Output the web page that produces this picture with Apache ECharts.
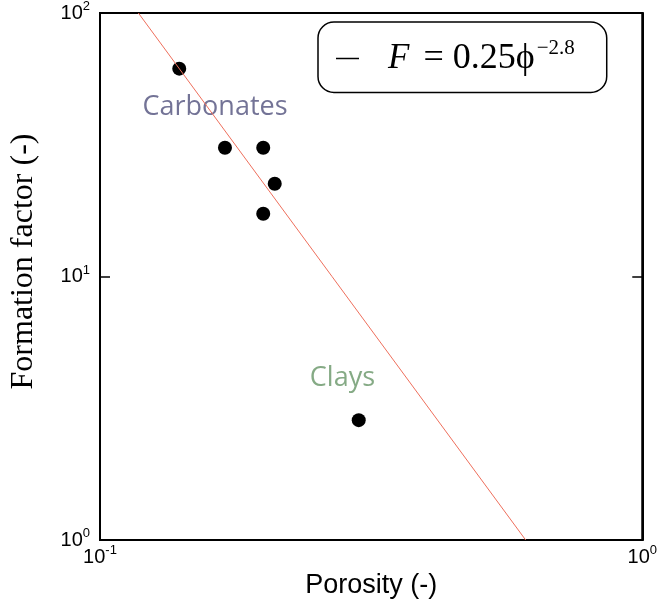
<!DOCTYPE html>
<html>
<head>
<meta charset="utf-8">
<script src="https://cdn.jsdelivr.net/npm/echarts@6/dist/echarts.min.js"></script>
<style>
    html, body { margin: 0; padding: 0; background: #fff; }
    #chart { width: 660px; height: 604px; }
</style>
</head>
<body>
<div id="chart"></div>
<script>
// measured samples (porosity, formation factor)
const porosity = [0.140, 0.170, 0.200, 0.210, 0.200, 0.300];
const formationFactor = [61.5, 30.8, 30.8, 22.5, 17.3, 2.85];

// fitted trend F = 0.25 phi^-2.8, end points where it leaves the plot box
const fitPhi = [0.1177, 0.6095];
const fitF = [100, 1];
const fitName = "F = 0.25ϕ^-2.8";

// group labels placed in data space
const groupNames = ["Carbonates", "Clays"];
const groupX = [0.163, 0.280];
const groupY = [44, 4.1];
const groupColors = ["#50507c", "#679566"];

function powLabel(v) {
    const e = Math.round(Math.log10(v));
    return "{base|10}{pow|" + (e < 0 ? "-" + (-e) : e) + "}";
}

const labelRich = {
    base: { fontFamily: "Liberation Sans", fontSize: 20, color: "#000" },
    pow: { fontFamily: "Liberation Sans", fontSize: 13, color: "#000", padding: [0, 0, 13, 0] }
};

const chart = echarts.init(document.getElementById("chart"));
chart.setOption({
    animation: false,
    grid: {
        left: 93, right: 15, top: 12, bottom: 64,
        show: true, borderColor: "#000", borderWidth: 2
    },
    legend: {
        left: 318, top: 22,
        data: [fitName],
        icon: "rect",
        padding: [16, 32, 16, 18],
        borderColor: "#000", borderWidth: 1.5, borderRadius: 16,
        itemWidth: 23, itemHeight: 1.5,
        itemStyle: { color: "#000" },
        formatter: () => "{it|F}{t|= 0.25ϕ}{sup|−2.8}",
        textStyle: {
            rich: {
                it: { fontFamily: "Liberation Serif", fontStyle: "italic", fontSize: 35, color: "#000", padding: [0, 14, 0, 24] },
                t: { fontFamily: "Liberation Serif", fontSize: 36, color: "#000" },
                sup: { fontFamily: "Liberation Serif", fontSize: 21, color: "#000", padding: [0, 0, 20, 2] }
            }
        }
    },
    xAxis: [{
        type: "log", logBase: 10, min: 0.1, max: 1,
        name: "Porosity (-)", nameLocation: "middle", nameGap: 29,
        nameTextStyle: { fontFamily: "Liberation Sans", fontSize: 27, color: "#000", verticalAlign: "top" },
        axisLine: { lineStyle: { color: "#000", width: 2 } },
        axisTick: { show: false },
        axisLabel: { formatter: powLabel, rich: labelRich, fontSize: 20, margin: 4 },
        splitLine: { show: false }
    }],
    yAxis: [{
        type: "log", logBase: 10, min: 1, max: 100,
        name: "Formation factor (-)", nameLocation: "middle", nameGap: 60,
        nameTextStyle: { fontFamily: "Liberation Serif", fontSize: 32, color: "#000", padding: [0, 0, 0, 30] },
        axisLine: { lineStyle: { color: "#000", width: 2 } },
        axisTick: { inside: true, length: 10, lineStyle: { color: "#000", width: 1.5 } },
        axisLabel: { formatter: powLabel, rich: labelRich, fontSize: 20, margin: 10 },
        splitLine: { show: false }
    }, {
        type: "log", logBase: 10, min: 1, max: 100, position: "right",
        axisLine: { lineStyle: { color: "#000", width: 2 } },
        axisTick: { inside: true, length: 10, lineStyle: { color: "#000", width: 1.5 } },
        axisLabel: { show: false },
        splitLine: { show: false }
    }],
    series: [{
        name: fitName,
        type: "line",
        data: fitPhi.map((x, i) => [x, fitF[i]]),
        symbol: "none",
        lineStyle: { color: "#ee6f5c", width: 1 },
        silent: true
    }, {
        type: "scatter",
        data: porosity.map((x, i) => [x, formationFactor[i]]),
        symbol: "circle", symbolSize: 14,
        itemStyle: { color: "#000", opacity: 1 }
    }, {
        type: "scatter",
        data: groupNames.map((n, i) => ({
            name: n, value: [groupX[i], groupY[i]],
            label: { color: groupColors[i] }
        })),
        symbolSize: 1,
        itemStyle: { color: "rgba(0,0,0,0)" },
        label: {
            show: true, position: "inside", formatter: "{b}",
            fontFamily: "Open Sans", fontSize: 27
        },
        silent: true
    }]
});
</script>
</body>
</html>
